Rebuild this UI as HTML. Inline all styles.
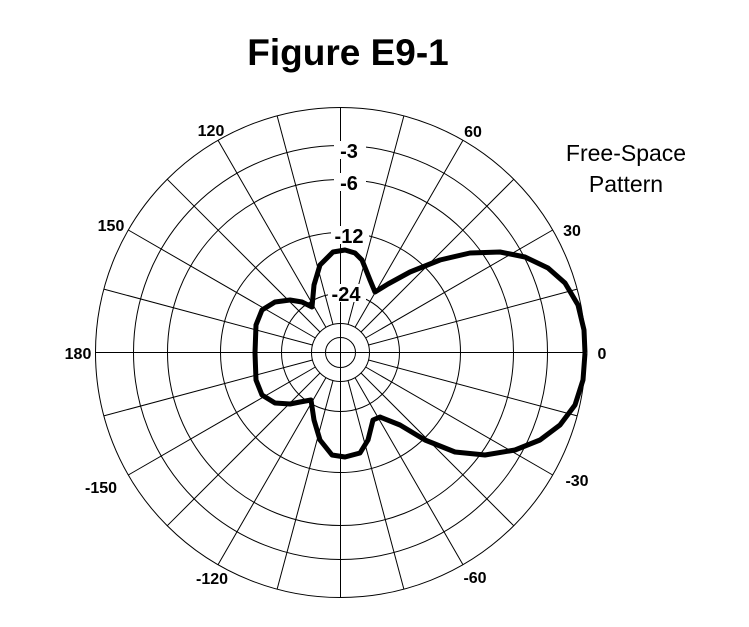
<!DOCTYPE html>
<html><head><style>
html,body{margin:0;padding:0;background:#fff;}
svg{display:block;}
</style></head><body>
<svg width="749" height="627" viewBox="0 0 749 627" xmlns="http://www.w3.org/2000/svg" font-family="Liberation Sans, Arial, sans-serif">
<rect width="749" height="627" fill="#fff"/>
<g fill="none" stroke="#000" stroke-width="1">
<circle cx="340.5" cy="352.5" r="245"/>
<circle cx="340.5" cy="352.5" r="207"/>
<circle cx="340.5" cy="352.5" r="173"/>
<circle cx="340.5" cy="352.5" r="120"/>
<circle cx="340.5" cy="352.5" r="59"/>
<circle cx="340.5" cy="352.5" r="29"/>
<circle cx="340.5" cy="352.5" r="15"/>
<line x1="95.5" y1="352.5" x2="585.5" y2="352.5"/>
<line x1="340.5" y1="107.5" x2="340.5" y2="597.5"/>
<g id="sp">
<line x1="368.5" y1="345" x2="577.2" y2="289.1"/>
<line x1="365.6" y1="338" x2="552.7" y2="230"/>
<line x1="361" y1="332" x2="513.7" y2="179.3"/>
<line x1="355" y1="327.4" x2="463" y2="140.3"/>
<line x1="348" y1="324.5" x2="403.9" y2="115.8"/>
<line x1="333" y1="324.5" x2="277.1" y2="115.8"/>
<line x1="326" y1="327.4" x2="218" y2="140.3"/>
<line x1="320" y1="332" x2="167.3" y2="179.3"/>
<line x1="315.4" y1="338" x2="128.3" y2="230"/>
<line x1="312.5" y1="345" x2="103.8" y2="289.1"/>
</g>
<use href="#sp" transform="matrix(1 0 0 -1 0 705)"/>
</g>
<polyline fill="none" stroke="#000" stroke-width="5" stroke-linejoin="round" points="585,353 584,330 578,305 565,283 548,268 525,257 500,252 470,253 440,260 410,272 388,284 375,292 370,280 362,260 355,253 345,250 333,252 320,265 314,285 312,307 302,302 290,300 275,302 262,310 256,325 255,353 256,380 262,395 275,403 290,404 300,402 311,400 314,420 320,440 332,455 345,457 360,453 368,440 373,420 380,417 400,425 425,440 455,452 485,455 515,450 540,440 560,425 575,405 583,380 585,353"/>
<g font-weight="bold" font-size="20" text-anchor="middle">
<rect x="334" y="141" width="32" height="18" fill="#fff"/>
<text x="349" y="158">-3</text>
<rect x="334" y="173" width="32" height="18" fill="#fff"/>
<text x="349" y="190">-6</text>
<rect x="331" y="226" width="38" height="18" fill="#fff"/>
<text x="349" y="243">-12</text>
<rect x="328" y="284" width="38" height="18" fill="#fff"/>
<text x="346" y="301">-24</text>
</g>
<g font-weight="bold" font-size="16" text-anchor="middle">
<text x="211" y="136">120</text>
<text x="473" y="137">60</text>
<text x="111" y="231">150</text>
<text x="572" y="236">30</text>
<text x="78" y="359">180</text>
<text x="602" y="359">0</text>
<text x="101" y="493">-150</text>
<text x="577" y="486">-30</text>
<text x="212" y="584">-120</text>
<text x="475" y="583">-60</text>
</g>
<text x="348" y="65" font-weight="bold" font-size="37" text-anchor="middle">Figure E9-1</text>
<g font-size="23" text-anchor="middle">
<text x="626" y="161">Free-Space</text>
<text x="626" y="192">Pattern</text>
</g>
</svg>
</body></html>
